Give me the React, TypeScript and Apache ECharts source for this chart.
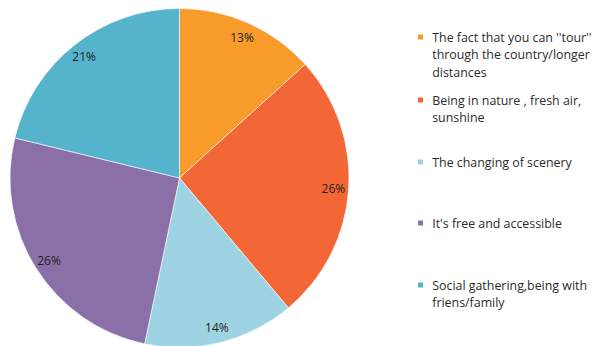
import React, { useEffect, useRef } from "react";
import * as echarts from "echarts";

const categories = [
  "The fact that you can ''tour''\nthrough the country/longer\ndistances",
  "Being in nature , fresh air,\nsunshine",
  "The changing of scenery",
  "It's free and accessible",
  "Social gathering,being with\nfriens/family",
];
const values = [13.3, 25.6, 14.4, 25.5, 21.2];
const colors = ["#F79C2B", "#F26735", "#9DD3E3", "#8B6FA9", "#55B4CC"];
// first-line centre y of each legend entry
const legendFirstLineY = [37, 100, 162, 223, 285];

const LH = 17.5;

export default function App() {
  const ref = useRef<HTMLDivElement>(null);
  useEffect(() => {
    if (!ref.current) return;
    const chart = echarts.init(ref.current, null, { renderer: "svg" });
    const data = categories.map((name, i) => ({
      name,
      value: values[i],
      itemStyle: { color: colors[i] },
    }));
    const font = "'Open Sans', 'Liberation Sans', sans-serif";
    const legends = categories.map((name, i) => {
      const lines = name.split("\n");
      const n = lines.length;
      const H = (2 * n - 1) * LH;
      return {
        data: [name],
        orient: "vertical",
        left: 416,
        top: legendFirstLineY[i] - H / 2,
        padding: 0,
        icon: "rect",
        itemWidth: 7,
        itemHeight: 7,
        itemGap: 0,
        selectedMode: false,
        formatter: () =>
          Array(n - 1)
            .fill(" ")
            .concat(lines.map((l) => " " + l))
            .join("\n"),
        textStyle: {
          fontFamily: font,
          fontSize: 12.4,
          color: "#2b2b2b",
          lineHeight: LH,
        },
      };
    });
    chart.setOption({
      animation: false,
      backgroundColor: "#fff",
      legend: legends,
      series: [
        {
          type: "pie",
          center: [179.5, 178],
          radius: [0, 169.5],
          startAngle: 90,
          clockwise: true,
          silent: true,
          label: { show: false },
          labelLine: { show: false },
          itemStyle: { borderColor: "#fff", borderWidth: 0.6 },
          data,
        },
        {
          type: "pie",
          center: [179.5, 178],
          radius: [133, 169.5],
          startAngle: 90,
          clockwise: true,
          silent: true,
          itemStyle: { color: "rgba(0,0,0,0)" },
          label: {
            show: true,
            position: "inside",
            fontFamily: font,
            fontSize: 12,
            color: "#1f1f1f",
            formatter: (p: any) => Math.round(p.value) + "%",
          },
          labelLine: { show: false },
          data: categories.map((name, i) => ({ name, value: values[i] })),
        },
      ],
    });
    return () => chart.dispose();
  }, []);
  return (
    <div
      ref={ref}
      style={{ position: "fixed", left: 0, top: 0, width: 598, height: 346 }}
    />
  );
}
